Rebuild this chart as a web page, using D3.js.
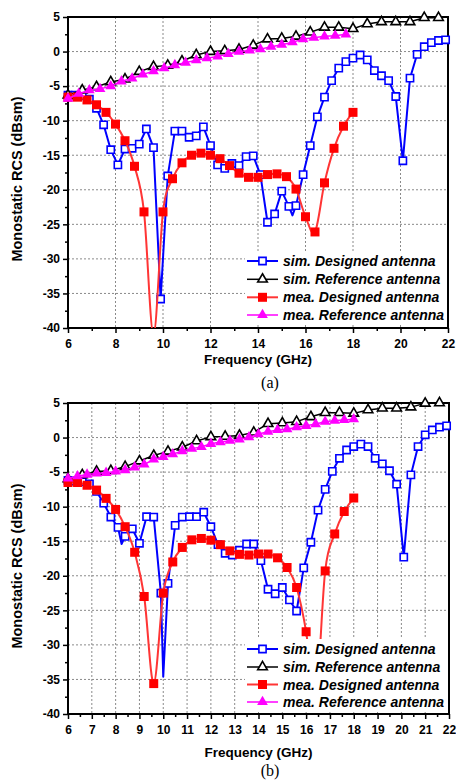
<!DOCTYPE html>
<html>
<head>
<meta charset="utf-8">
<script src="https://cdn.jsdelivr.net/npm/d3@7"></script>
<style>
  body { margin: 0; background: #fff; }
  svg text { font-family: "Liberation Sans", Arial, sans-serif; }
</style>
</head>
<body>
<div id="chart"></div>
<script>
/* DATA — panel (a) */
const simDesFreqA = [6.0,6.3,6.6,6.9,7.2,7.5,7.8,8.1,8.4,8.7,9.0,9.3,9.6,9.9,10.2,10.5,10.8,11.1,11.4,11.7,12.0,12.3,12.6,12.9,13.2,13.5,13.8,14.1,14.4,14.7,15.0,15.3,15.45,15.6,15.9,16.2,16.5,16.8,17.1,17.4,17.7,18.0,18.3,18.6,18.9,19.2,19.5,19.8,20.1,20.4,20.7,21.0,21.3,21.6,21.9,22.0];
const simDesA = [-6.3,-6.3,-6.4,-6.9,-8.2,-10.6,-14.2,-16.4,-14.1,-14.0,-13.4,-11.2,-13.9,-35.8,-18.0,-11.5,-11.5,-12.4,-12.2,-10.9,-13.6,-16.4,-16.9,-16.2,-16.5,-15.2,-15.1,-17.8,-24.7,-23.5,-20.2,-22.4,-23.7,-22.3,-17.8,-13.6,-9.45,-6.6,-4.2,-2.4,-1.45,-0.95,-0.5,-1.2,-2.75,-3.5,-4.2,-6.5,-15.8,-3.85,-0.4,0.7,1.3,1.6,1.7,1.75];
const simRefFreqA = [6.0,6.6,7.2,7.8,8.4,9.0,9.6,10.2,10.8,11.4,12.0,12.6,13.2,13.8,14.4,15.0,15.6,16.2,16.8,17.4,18.0,18.6,19.2,19.8,20.4,21.0,21.6,22.0];
const simRefA = [-6.3,-5.6,-5.1,-4.4,-4.0,-2.9,-2.2,-2.0,-1.4,-0.5,0.0,0.1,0.3,0.9,1.8,1.9,2.2,2.8,3.5,3.5,3.3,4.0,4.3,4.3,4.3,4.9,4.9,5.0];
const meaDesFreqA = [6.0,6.4,6.8,7.2,7.6,8.0,8.4,8.8,9.2,9.6,10.0,10.4,10.8,11.2,11.6,12.0,12.4,12.8,13.2,13.6,14.0,14.4,14.8,15.2,15.6,16.0,16.4,16.8,17.2,17.6,18.0];
const meaDesA = [-6.6,-6.6,-7.0,-7.7,-8.8,-10.5,-12.9,-16.6,-23.2,-41,-23.2,-18.4,-16.1,-15.0,-14.7,-15.0,-15.5,-16.5,-17.6,-18.2,-18.2,-17.8,-17.7,-18.1,-19.9,-23.9,-26.1,-19.0,-14.0,-10.8,-8.8];
const meaRefFreqA = [6.0,6.45,6.9,7.35,7.8,8.25,8.7,9.15,9.6,10.05,10.5,10.95,11.4,11.85,12.3,12.75,13.2,13.65,14.1,14.55,15.0,15.45,15.9,16.35,16.8,17.25,17.7];
const meaRefA = [-6.8,-6.1,-5.6,-5.4,-5.0,-4.3,-3.9,-3.3,-2.85,-2.4,-1.95,-1.6,-1.25,-0.95,-0.7,-0.35,0.0,0.15,0.35,0.7,1.0,1.35,1.8,2.0,2.2,2.3,2.5];

/* DATA — panel (b) */
const simDesFreqB = [6.0,6.3,6.6,6.9,7.2,7.5,7.8,8.1,8.25,8.4,8.7,9.0,9.3,9.6,9.9,10.0,10.2,10.5,10.8,11.1,11.4,11.7,12.0,12.3,12.6,12.9,13.2,13.5,13.8,14.1,14.4,14.7,15.0,15.3,15.6,15.9,16.2,16.5,16.8,17.1,17.4,17.7,18.0,18.3,18.6,18.9,19.2,19.5,19.8,20.1,20.4,20.7,21.0,21.3,21.6,21.9,22.0];
const simDesB = [-6.2,-6.3,-6.4,-6.7,-7.8,-9.5,-11.5,-13.0,-15.4,-14.3,-13.2,-15.3,-11.45,-11.5,-22.5,-34.6,-21.1,-12.7,-11.5,-11.45,-11.45,-10.8,-12.9,-15.5,-16.75,-17.0,-16.3,-15.4,-15.4,-17.8,-21.95,-22.6,-21.7,-23.5,-25.1,-18.85,-15.15,-10.5,-7.5,-4.9,-3.0,-1.8,-1.3,-0.95,-1.3,-3.0,-3.8,-4.8,-6.75,-17.3,-5.4,-1.3,0.4,1.1,1.5,1.7,1.75];
const simRefFreqB = [6.0,6.6,7.2,7.8,8.4,9.0,9.6,10.2,10.8,11.4,12.0,12.6,13.2,13.8,14.4,15.0,15.6,16.2,16.8,17.4,18.0,18.6,19.2,19.8,20.4,21.0,21.6,22.0];
const simRefB = [-6.0,-5.4,-4.9,-4.8,-4.2,-3.4,-2.6,-2.0,-1.4,-0.5,0.1,0.15,0.3,0.75,2.0,2.1,2.3,3.0,3.6,3.6,3.5,4.0,4.25,4.25,4.4,4.95,5.0,5.0];
const meaDesFreqB = [6.0,6.4,6.8,7.2,7.6,8.0,8.4,8.8,9.2,9.6,10.0,10.4,10.8,11.2,11.6,12.0,12.4,12.8,13.2,13.6,14.0,14.4,14.8,15.2,15.6,16.0,16.4,16.8,17.2,17.6,18.0];
const meaDesB = [-6.5,-6.5,-6.9,-7.6,-8.8,-10.4,-12.9,-16.6,-23.0,-35.6,-22.5,-18.0,-15.9,-14.8,-14.6,-14.85,-15.5,-16.4,-16.9,-17.0,-16.85,-16.85,-17.4,-18.8,-21.7,-28.1,-38,-19.3,-13.95,-10.7,-8.75];
const meaRefFreqB = [6.0,6.4,6.8,7.2,7.6,8.0,8.4,8.8,9.2,9.6,10.0,10.4,10.8,11.2,11.6,12.0,12.4,12.8,13.2,13.6,14.0,14.4,14.8,15.2,15.6,16.0,16.4,16.8,17.2,17.6,18.0];
const meaRefB = [-5.9,-5.6,-5.35,-5.2,-5.1,-4.9,-4.7,-4.3,-3.9,-3.15,-2.8,-2.4,-1.95,-1.6,-1.35,-0.9,-0.65,-0.45,-0.25,0.05,0.5,0.85,1.1,1.2,1.5,1.7,1.95,2.3,2.45,2.55,2.65];

/* TICKS AND LABELS */
const yTicks = [5,0,-5,-10,-15,-20,-25,-30,-35,-40];
const xTicksA = [6,8,10,12,14,16,18,20,22];
const xTicksB = [6,7,8,9,10,11,12,13,14,15,16,17,18,19,20,21,22];
const legendNames = ["sim. Designed antenna","sim. Reference antenna","mea. Designed antenna","mea. Reference antenna"];

/* CONSTANTS */
const width = 456, height = 780;
const sansFont = "'Liberation Sans', Arial, sans-serif";

const styles = [
  { stroke: "#0000ff", lw: 2,   shape: d3.symbolSquare,   size: 52, fill: "#fff",    mstroke: "#0000ff", curve: d3.curveLinear },
  { stroke: "#000",    lw: 1.5, shape: d3.symbolTriangle, size: 40, fill: "#fff",    mstroke: "#000",    curve: d3.curveLinear },
  { stroke: "#ff3535", lw: 2,   shape: d3.symbolSquare,   size: 81, fill: "#ff0000", mstroke: "none",    curve: d3.curveCardinal.tension(0) },
  { stroke: "#ff00ff", lw: 1.5, shape: d3.symbolTriangle, size: 50, fill: "#ff00ff", mstroke: "none",    curve: d3.curveLinear }
];

const svg = d3.select("#chart").append("svg")
  .attr("width", width)
  .attr("height", height);

const panels = [
  {
    id: "a", left: 68, right: 448, top: 17, bottom: 328,
    xTicks: xTicksA, minorStep: 1, caption: "(a)", captionY: 388, titleY: 364, yTitleMid: 179,
    legendRows: [261, 279.3, 297.3, 315],
    series: [
      { f: simDesFreqA, v: simDesA, step: 0.3 },
      { f: simRefFreqA, v: simRefA, step: 0.6 },
      { f: meaDesFreqA, v: meaDesA, step: 0.4 },
      { f: meaRefFreqA, v: meaRefA, step: 0.45 }
    ]
  },
  {
    id: "b", left: 68, right: 449, top: 403, bottom: 714,
    xTicks: xTicksB, minorStep: 0.5, caption: "(b)", captionY: 776, titleY: 757, yTitleMid: 566,
    legendRows: [649, 667, 684.5, 702],
    series: [
      { f: simDesFreqB, v: simDesB, step: 0.3 },
      { f: simRefFreqB, v: simRefB, step: 0.6 },
      { f: meaDesFreqB, v: meaDesB, step: 0.4 },
      { f: meaRefFreqB, v: meaRefB, step: 0.4 }
    ]
  }
];

panels.forEach(drawPanel);

function drawPanel(p) {
  const x = d3.scaleLinear().domain([6, 22]).range([p.left, p.right]);
  const y = d3.scaleLinear().domain([-40, 5]).range([p.bottom, p.top]);
  const g = svg.append("g");

  // grid
  const xGrid = p.xTicks.slice(1, -1);
  const yGrid = yTicks.slice(1, -1);
  g.append("g").selectAll("line").data(xGrid).join("line")
    .attr("x1", d => x(d)).attr("x2", d => x(d))
    .attr("y1", p.top).attr("y2", p.bottom)
    .attr("stroke", "#8a8a8a").attr("stroke-width", 1).attr("stroke-dasharray", "2,2");
  g.append("g").selectAll("line").data(yGrid).join("line")
    .attr("x1", p.left).attr("x2", p.right)
    .attr("y1", d => y(d)).attr("y2", d => y(d))
    .attr("stroke", "#8a8a8a").attr("stroke-width", 1).attr("stroke-dasharray", "2,2");

  // axes
  const minorX = d3.range(6, 22 + 1e-9, p.minorStep).filter(d => !p.xTicks.includes(d));
  const minorY = d3.range(-40, 5 + 1e-9, 2.5).filter(d => !yTicks.includes(d));

  g.append("g")
    .attr("transform", `translate(0, ${p.bottom})`)
    .call(d3.axisBottom(x).tickValues(p.xTicks).tickSize(5).tickPadding(6).tickFormat(d => String(d)));
  g.append("g")
    .attr("transform", `translate(0, ${p.bottom})`)
    .call(d3.axisBottom(x).tickValues(minorX).tickSize(3).tickFormat(""));
  g.append("g")
    .attr("transform", `translate(${p.left}, 0)`)
    .call(d3.axisLeft(y).tickValues(yTicks).tickSize(5).tickPadding(3).tickFormat(d => String(d)));
  g.append("g")
    .attr("transform", `translate(${p.left}, 0)`)
    .call(d3.axisLeft(y).tickValues(minorY).tickSize(3).tickFormat(""));

  g.selectAll(".domain").remove();
  g.selectAll(".tick line").attr("stroke", "#000").attr("stroke-width", 1.5);
  g.selectAll(".tick text")
    .attr("fill", "#000")
    .style("font-family", sansFont)
    .style("font-size", "12px")
    .style("font-weight", "bold");

  // frame
  g.append("rect")
    .attr("x", p.left).attr("y", p.top)
    .attr("width", p.right - p.left).attr("height", p.bottom - p.top)
    .attr("fill", "none").attr("stroke", "#000").attr("stroke-width", 2);

  // clip for lines
  const clipId = "clip-" + p.id;
  svg.append("defs").append("clipPath").attr("id", clipId)
    .append("rect")
    .attr("x", p.left).attr("y", p.top)
    .attr("width", p.right - p.left).attr("height", p.bottom - p.top);

  p.series.forEach((s, i) => {
    const st = styles[i];
    const pts = s.f.map((f, j) => ({ f: f, v: s.v[j] }));
    const line = d3.line().x(d => x(d.f)).y(d => y(d.v)).curve(st.curve);

    g.append("path")
      .datum(pts)
      .attr("clip-path", `url(#${clipId})`)
      .attr("d", line)
      .attr("fill", "none")
      .attr("stroke", st.stroke)
      .attr("stroke-width", st.lw)
      .attr("stroke-linejoin", "round");

    // markers only on the series' own step, and only inside the y range
    const marked = pts.filter(d => {
      const k = (d.f - 6) / s.step;
      return Math.abs(k - Math.round(k)) < 1e-6 && d.v >= -40 && d.v <= 5;
    });

    g.append("g").selectAll("path").data(marked).join("path")
      .attr("transform", d => `translate(${x(d.f)}, ${y(d.v)})`)
      .attr("d", d3.symbol().type(st.shape).size(st.size))
      .attr("fill", st.fill)
      .attr("stroke", st.mstroke)
      .attr("stroke-width", 1.6);
  });

  // legend
  const lg = g.append("g");
  lg.append("rect")
    .attr("x", 245).attr("y", p.legendRows[0] - 10)
    .attr("width", p.right - 1 - 245)
    .attr("height", p.legendRows[3] - p.legendRows[0] + 20)
    .attr("fill", "#fff");
  legendNames.forEach((name, i) => {
    const st = styles[i];
    const ry = p.legendRows[i];
    lg.append("line")
      .attr("x1", 247).attr("x2", 278).attr("y1", ry).attr("y2", ry)
      .attr("stroke", st.stroke).attr("stroke-width", st.lw);
    lg.append("path")
      .attr("transform", `translate(262.5, ${ry})`)
      .attr("d", d3.symbol().type(st.shape).size(st.size))
      .attr("fill", st.fill).attr("stroke", st.mstroke).attr("stroke-width", 1.6);
    lg.append("text")
      .attr("x", 283).attr("y", ry + 5)
      .style("font-family", sansFont)
      .style("font-size", "14px")
      .style("font-weight", "bold")
      .style("font-style", "italic")
      .text(name);
  });

  // titles
  g.append("text")
    .attr("x", (p.left + p.right) / 2).attr("y", p.titleY)
    .attr("text-anchor", "middle")
    .style("font-family", sansFont)
    .style("font-size", "13.5px").style("font-weight", "bold")
    .text("Frequency (GHz)");
  g.append("text")
    .attr("transform", `translate(22, ${p.yTitleMid}) rotate(-90)`)
    .attr("text-anchor", "middle")
    .style("font-family", sansFont)
    .style("font-size", "14.5px").style("font-weight", "bold")
    .text("Monostatic RCS (dBsm)");
  g.append("text")
    .attr("x", 270).attr("y", p.captionY)
    .attr("text-anchor", "middle")
    .style("font-family", "'Liberation Serif', 'Times New Roman', serif")
    .style("font-size", "16px")
    .text(p.caption);
}
</script>
</body>
</html>
